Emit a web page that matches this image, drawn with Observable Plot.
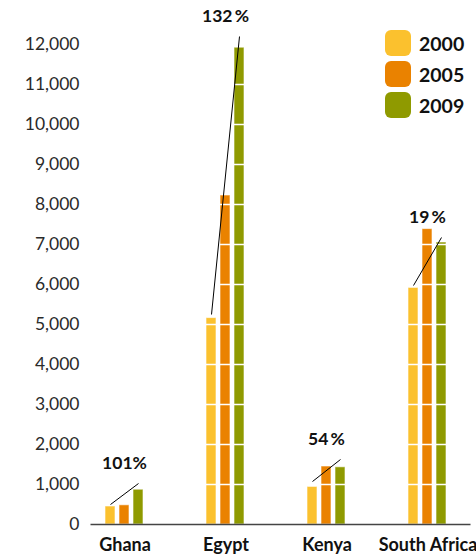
<!DOCTYPE html>
<html><head><meta charset="utf-8">
<script src="https://cdn.jsdelivr.net/npm/d3@7"></script>
<script src="https://cdn.jsdelivr.net/npm/@observablehq/plot@0.6"></script>
<style>
html,body{margin:0;padding:0;background:#fff;overflow:hidden}
#wrap{position:relative;width:476px;height:559px;overflow:hidden}
.legend{position:absolute;left:385px;top:30px;font-family:Lato,sans-serif;font-weight:bold;font-size:19.5px;color:#111}
.legend .item{display:flex;align-items:center;height:26px;margin-bottom:5px}
.legend .sw{width:26px;height:26px;border-radius:6px;margin-right:8px}
</style></head><body><div id="wrap"></div>
<script>
const countries = ["Ghana", "Egypt", "Kenya", "South Africa"];
const years = ["2000", "2005", "2009"];
const colors = ["#FBC12E", "#EA8200", "#8F9A00"];
const values2000 = [450, 5160, 940, 5915];
const values2005 = [480, 8225, 1450, 7385];
const values2009 = [870, 11920, 1430, 7050];
const growthLabels = ["101%", "132\u2009%", "54\u2009%", "19\u2009%"];
const trendStart = [500, 5250, 1075, 5975];
const trendEnd = [1025, 12200, 1625, 7175];
const yTicks = [0, 1000, 2000, 3000, 4000, 5000, 6000, 7000, 8000, 9000, 10000, 11000, 12000];

const series = {"2000": values2000, "2005": values2005, "2009": values2009};
const rows = countries.flatMap((c, i) => years.map(y => ({country: c, year: y, value: series[y][i]})));
const ann = countries.map((c, i) => ({country: c, start: trendStart[i], end: trendEnd[i], label: growthLabels[i]}));

const chart = Plot.plot({
  width: 476, height: 559,
  marginLeft: 90, marginRight: 6, marginTop: 44, marginBottom: 35,
  fx: {domain: countries, paddingInner: 0.396, paddingOuter: 0.079, align: 0.219, label: null},
  x: {domain: years, paddingInner: 0.2667, paddingOuter: 0.6667, axis: null},
  y: {domain: [0, 12000]},
  color: {domain: years, range: colors},
  style: {fontFamily: "Lato, sans-serif", background: "#fff", overflow: "visible"},
  marks: [
    Plot.barY(rows, {fx: "country", x: "year", y: "value", fill: "year", stroke: "#fff", strokeOpacity: 0.6, strokeWidth: 1}),
    Plot.ruleY(yTicks.filter(t => t > 0), {stroke: "#fff", strokeWidth: 1.5}),
    Plot.ruleY(["Ghana"], {fx: d => d, y: () => 0, stroke: "#444", strokeWidth: 1.5, insetLeft: -3.5, insetRight: -20}),
    Plot.ruleY(["Egypt", "Kenya"], {fx: d => d, y: () => 0, stroke: "#444", strokeWidth: 1.5, insetLeft: -20, insetRight: -20}),
    Plot.ruleY(["South Africa"], {fx: d => d, y: () => 0, stroke: "#444", strokeWidth: 1.5, insetLeft: -20, insetRight: -12.5}),
    Plot.link(ann, {fx: "country", x1: () => "2000", x2: () => "2009", y1: "start", y2: "end", stroke: "#000", strokeWidth: 1}),
    Plot.text(ann, {fx: "country", x: () => "2005", y: "end", text: "label", dy: -20, fontWeight: "bold", fontSize: 17.5, fill: "#111"}),
    Plot.axisY(yTicks, {tickSize: 0, tickPadding: 15, tickFormat: d3.format(","), fontSize: 17.5, fontWeight: 400, color: "#2a2a2a", style: {letterSpacing: "0.8px"}}),
    Plot.axisFx({anchor: "bottom", tickSize: 0, tickPadding: 14, fontSize: 18, fontWeight: "bold", color: "#111", label: null})
  ]
});
const wrap = document.getElementById("wrap");
wrap.appendChild(chart);
const legend = document.createElement("div");
legend.className = "legend";
years.forEach((y, i) => {
  const item = document.createElement("div");
  item.className = "item";
  const sw = document.createElement("div");
  sw.className = "sw";
  sw.style.background = colors[i];
  const t = document.createElement("span");
  t.textContent = y;
  item.appendChild(sw); item.appendChild(t);
  legend.appendChild(item);
});
wrap.appendChild(legend);
</script>
</body></html>
